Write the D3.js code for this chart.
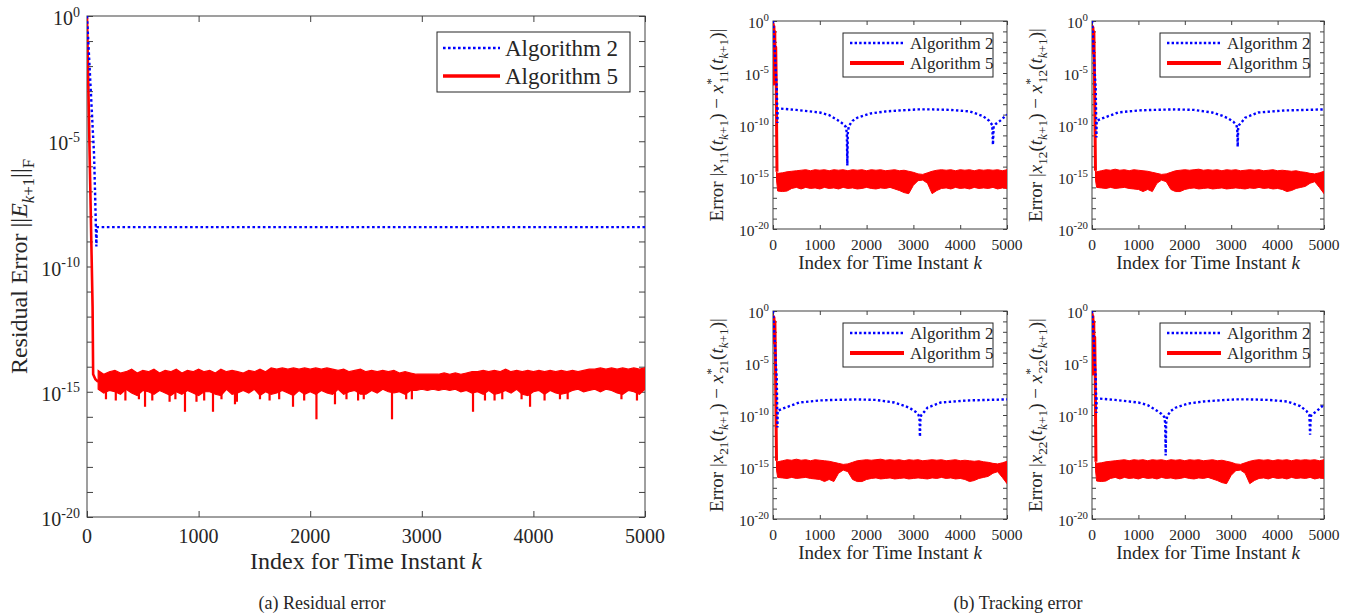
<!DOCTYPE html>
<html lang="en">
<head>
<meta charset="UTF-8">
<title>Residual and tracking error</title>
<script src="https://d3js.org/d3.v7.min.js"></script>
<style>
  body { margin: 0; background: #fff; }
  #fig text, #fig tspan { font-family: "Liberation Serif", "Times New Roman", serif; }
  #fig text { fill: #262626; }
</style>
</head>
<body>
<svg id="fig" width="1358" height="614" font-family="Liberation Serif, serif"></svg>
<script>
// ---------- data (values are log10 of the error) ----------
var xTicks = [0, 1000, 2000, 3000, 4000, 5000];
var yLabelExps = [0, -5, -10, -15, -20];
var seriesNames = ["Algorithm 2", "Algorithm 5"];

// (a) residual error
var resAlg2K = [0, 50, 63, 72, 80, 84, 88, 5000];
var resAlg2 = [0, -4.4, -5.5, -7.0, -8.5, -9.2, -8.43, -8.43];
var resAlg5HeadK = [0, 50, 55, 75, 100];
var resAlg5Head = [-0.05, -11.6, -14.3, -14.5, -14.6];
var resBandK = d3.range(100, 5001, 50);
var resBandTop = [
  -14.15,-14.3,-14.2,-14.15,-14.25,-14.2,-14.1,-14.25,-14.15,-14.2,
  -14.1,-14.25,-14.15,-14.2,-14.1,-14.25,-14.15,-14.2,-14.1,-14.2,
  -14.15,-14.25,-14.1,-14.2,-14.15,-14.2,-14.25,-14.15,-14.2,-14.1,
  -14.2,-14.05,-14.1,-14.05,-14.1,-14.05,-14.1,-14.05,-14.1,-14.05,
  -14.1,-14.05,-14.1,-14.15,-14.1,-14.2,-14.15,-14.1,-14.2,-14.15,
  -14.2,-14.15,-14.2,-14.15,-14.25,-14.2,-14.25,-14.3,-14.3,-14.3,
  -14.3,-14.3,-14.25,-14.3,-14.25,-14.3,-14.25,-14.2,-14.2,-14.15,
  -14.2,-14.15,-14.2,-14.1,-14.2,-14.15,-14.2,-14.15,-14.2,-14.15,
  -14.2,-14.15,-14.2,-14.15,-14.2,-14.15,-14.2,-14.15,-14.1,-14.1,
  -14.05,-14.1,-14.05,-14.1,-14.05,-14.1,-14.05,-14.1,-14.05
];
var resBandBot = [
  -14.9,-15.05,-14.95,-15.0,-15.1,-14.9,-15.05,-15.15,-14.95,-15.0,
  -15.1,-14.95,-15.05,-15.15,-15.0,-15.1,-14.95,-15.05,-15.15,-15.0,
  -15.0,-15.1,-15.15,-14.9,-15.1,-15.05,-14.95,-15.05,-14.9,-15.15,
  -15.0,-15.1,-15.05,-14.95,-15.05,-15.15,-14.95,-15.1,-15.0,-15.1,
  -14.95,-15.05,-15.1,-14.9,-15.1,-15.0,-14.95,-15.1,-15.1,-14.95,
  -15.05,-14.9,-15.0,-15.05,-15.0,-15.1,-14.95,-14.95,-14.9,-14.95,
  -14.9,-14.95,-14.9,-14.95,-14.9,-15.0,-14.95,-15.05,-15.0,-15.1,
  -14.95,-15.1,-15.05,-14.95,-15.05,-14.9,-15.1,-15.15,-15.0,-14.95,
  -15.1,-14.95,-15.05,-15.1,-15.05,-14.95,-14.9,-15.0,-14.95,-14.9,
  -15.0,-14.9,-14.95,-15.05,-15.1,-14.95,-15.0,-15.1,-14.9
];
var resSpikeBase = -14.8;
var resSpikeK = [170, 258, 344, 465, 520, 585, 740, 792, 878, 981, 1050, 1129, 1205, 1326, 1343, 1550, 1636, 1722, 1846, 1946,
  2056, 2222, 2325, 2429, 2480, 2733, 2860, 2911, 3459, 3566, 3652, 3721, 3894, 3970, 4100, 4238, 4307, 4789, 4928];
var resSpike = [-15.3, -15.35, -15.35, -15.3, -15.6, -15.35, -15.4, -15.3, -15.8, -15.4, -15.35, -15.8, -15.3, -15.5, -15.4, -15.3, -15.35, -15.3, -15.6, -15.35,
  -16.1, -15.5, -15.3, -15.35, -15.3, -16.1, -15.3, -15.3, -15.8, -15.35, -15.35, -15.3, -15.3, -15.6, -15.35, -15.3, -15.3, -15.3, -15.35];

// (b) tracking error, pattern A (x11, x22) and pattern B (x12, x21)
var blueAK = [0, 40, 60, 80, 95, 100, 500, 1000, 1200, 1370, 1500, 1560, 1578, 1588, 1598, 1620, 1700, 1800, 2070, 2400, 2780, 3100, 3400, 3800, 4210, 4490, 4620, 4685, 4700, 4715, 4760, 4850, 5000];
var blueA = [0, -3, -5, -6.3, -9.8, -8.4, -8.55, -8.8, -9.05, -9.5, -9.9, -10.2, -10.8, -13.9, -10.8, -10.1, -9.6, -9.3, -8.9, -8.7, -8.58, -8.5, -8.5, -8.55, -8.7, -9.15, -9.6, -10.0, -11.9, -10.1, -9.9, -9.6, -9.0];
var blueBK = [0, 40, 60, 80, 95, 100, 200, 560, 1000, 1290, 1800, 2200, 2590, 2800, 2930, 3050, 3110, 3130, 3140, 3150, 3170, 3230, 3300, 3580, 4160, 4600, 5000];
var blueB = [0, -3, -5, -6.5, -11.2, -9.6, -9.4, -8.8, -8.6, -8.55, -8.5, -8.55, -8.8, -9.1, -9.35, -9.7, -10.0, -10.3, -12.1, -10.3, -10.0, -9.7, -9.3, -8.8, -8.6, -8.55, -8.5];

var redHeadAK = [0, 5, 12, 20, 28, 38, 48, 58, 70, 85];
var redHeadA = [-6.2, -0.3, -5.9, -0.5, -6.0, -1.0, -5.8, -2.5, -6.3, -14.5];
var redHeadBK = [0, 5, 12, 20, 30, 40, 50, 60, 75];
var redHeadB = [-3.2, -0.5, -2.8, -0.6, -2.5, -1.0, -4, -8, -14.4];

var bandK = [75].concat(d3.range(100, 5001, 100));
var bandUpA = [-14.5, -14.65,-14.6,-14.5,-14.45,-14.4,-14.35,-14.3,-14.4,-14.3,-14.35, -14.3,-14.4,-14.3,-14.35,-14.3,-14.4,-14.3,-14.35,-14.3,-14.4,
  -14.3,-14.35,-14.3,-14.4,-14.35,-14.3,-14.4,-14.35,-14.45,-14.55, -14.7,-14.75,-14.6,-14.45,-14.35,-14.3,-14.35,-14.3,-14.4,-14.3,
  -14.35,-14.3,-14.4,-14.3,-14.35,-14.3,-14.35,-14.3,-14.4,-14.3];
var bandLoA = [-15.3, -16.35,-16.4,-16.35,-16.1,-16.0,-16.15,-16.0,-16.1,-16.05,-16.15, -16.0,-16.1,-16.05,-16.15,-16.0,-16.1,-16.05,-16.15,-16.1,-16.0,
  -16.1,-16.15,-16.05,-16.1,-16.0,-16.15,-16.3,-16.5,-16.6,-15.8, -15.35,-15.3,-15.6,-16.6,-16.3,-16.1,-16.05,-16.15,-16.0,-16.1,
  -16.05,-16.15,-16.0,-16.1,-16.05,-16.1,-16.0,-16.15,-16.05,-16.1];
var bandUpB = [-14.4, -14.5,-14.4,-14.3,-14.35,-14.25,-14.35,-14.3,-14.4,-14.3,-14.35, -14.4,-14.45,-14.55,-14.65,-14.75,-14.7,-14.55,-14.4,-14.35,-14.3,
  -14.35,-14.3,-14.25,-14.35,-14.3,-14.35,-14.3,-14.4,-14.3,-14.35, -14.3,-14.4,-14.35,-14.3,-14.35,-14.3,-14.4,-14.35,-14.3,-14.4,
  -14.35,-14.4,-14.45,-14.4,-14.5,-14.55,-14.65,-14.7,-14.6,-14.45];
var bandLoB = [-15.3, -16.0,-16.05,-16.1,-16.0,-16.1,-16.05,-16.0,-16.1,-16.15,-16.2, -16.4,-16.2,-16.4,-15.6,-15.3,-15.45,-16.2,-16.4,-16.4,-16.2,
  -16.1,-16.05,-16.15,-16.1,-16.05,-16.15,-16.1,-16.05,-16.15,-16.1, -16.05,-16.1,-16.15,-16.05,-16.1,-16.0,-16.1,-16.05,-16.15,-16.1,
  -16.2,-16.4,-16.3,-16.1,-16.0,-15.9,-15.6,-15.45,-16.0,-16.6];

// ---------- drawing ----------
var BLUE = "#0000ff", RED = "#ff0000", AXIS = "#404040";
var SERIF = "'Liberation Serif', 'Times New Roman', serif";
var fig = d3.select("#fig");

function txt(parent) {
  return parent.append("text").style("font-family", SERIF).attr("fill", "#262626");
}

function rich(sel, parts, size) {
  var cur = 0;
  parts.forEach(function(p) {
    var shift = p.sub ? 0.28 * size : (p.sup ? -0.42 * size : 0);
    var ts = sel.append("tspan").text(p.t).attr("dy", shift - cur);
    if (p.sub || p.sup) ts.attr("font-size", size * 0.7);
    if (p.it) ts.attr("font-style", "italic");
    if (p.dx) ts.attr("dx", p.dx);
    cur = shift;
  });
}

function pts(ks, vs) {
  return ks.map(function(k, i) { return [k, Math.pow(10, vs[i])]; });
}

function setupAxes(p) {
  var x = d3.scaleLinear().domain([0, 5000]).range([p.x0, p.x1]);
  var y = d3.scaleLog().domain([1e-20, 1]).range([p.y1, p.y0]);
  var decades = d3.range(0, -21, -1).map(function(e) { return Math.pow(10, e); });
  var g = fig.append("g").attr("color", AXIS);

  g.append("g").attr("transform", "translate(0," + p.y1 + ")")
    .call(d3.axisBottom(x).tickValues(xTicks).tickSizeInner(-p.tl).tickSizeOuter(0).tickFormat(""));
  g.append("g").attr("transform", "translate(0," + p.y0 + ")")
    .call(d3.axisTop(x).tickValues(xTicks).tickSizeInner(-p.tl).tickSizeOuter(0).tickFormat(""));
  g.append("g").attr("transform", "translate(" + p.x0 + ",0)")
    .call(d3.axisLeft(y).tickValues(decades).tickSizeInner(-p.tl).tickSizeOuter(0).tickFormat(""));
  g.append("g").attr("transform", "translate(" + p.x1 + ",0)")
    .call(d3.axisRight(y).tickValues(decades).tickSizeInner(-p.tl).tickSizeOuter(0).tickFormat(""));
  g.selectAll(".domain").remove();
  g.selectAll(".tick text").remove();
  g.selectAll("line").attr("stroke-width", 1);
  g.append("rect").attr("x", p.x0).attr("y", p.y0)
    .attr("width", p.x1 - p.x0).attr("height", p.y1 - p.y0)
    .attr("fill", "none").attr("stroke", AXIS).attr("stroke-width", 1);

  // tick labels
  xTicks.forEach(function(t) {
    txt(fig).attr("x", x(t)).attr("y", p.y1 + p.xtOff)
      .attr("text-anchor", "middle").attr("font-size", p.tf).text(t);
  });
  yLabelExps.forEach(function(e) {
    var t = txt(fig).attr("x", p.x0 - p.ytGap).attr("y", y(Math.pow(10, e)) + p.ytOff)
      .attr("text-anchor", "end").attr("font-size", p.tf);
    rich(t, [{ t: "10" }, { t: String(e), sup: 1 }], p.tf);
  });

  // axis labels
  var xl = txt(fig).attr("x", (p.x0 + p.x1) / 2).attr("y", p.y1 + p.xlOff)
    .attr("text-anchor", "middle").attr("font-size", p.lf);
  rich(xl, [{ t: "Index for Time Instant " }, { t: "k", it: 1 }], p.lf);
  var yl = txt(fig)
    .attr("transform", "translate(" + (p.x0 - p.ylOff) + "," + ((p.y0 + p.y1) / 2) + ") rotate(-90)")
    .attr("text-anchor", "middle").attr("font-size", p.ylf || p.lf);
  rich(yl, p.ylabel, p.ylf || p.lf);

  var cid = "clip" + p.id;
  fig.append("clipPath").attr("id", cid).append("rect")
    .attr("x", p.x0).attr("y", p.y0 - 3).attr("width", p.x1 - p.x0).attr("height", p.y1 - p.y0 + 3);
  var plot = fig.append("g").attr("clip-path", "url(#" + cid + ")");
  return { x: x, y: y, plot: plot };
}

function legend(L) {
  var g = fig.append("g");
  g.append("rect").attr("x", L.x).attr("y", L.y).attr("width", L.w).attr("height", L.h)
    .attr("fill", "#fff").attr("stroke", "#262626").attr("stroke-width", 1);
  var styles = [
    { c: BLUE, w: L.bw, dash: L.dash },
    { c: RED, w: L.rw, dash: null }
  ];
  seriesNames.forEach(function(name, i) {
    var cy = L.y + L.rows[i];
    g.append("line").attr("x1", L.x + L.l0).attr("x2", L.x + L.l1).attr("y1", cy).attr("y2", cy)
      .attr("stroke", styles[i].c).attr("stroke-width", styles[i].w)
      .attr("stroke-dasharray", styles[i].dash);
    txt(g).attr("x", L.x + L.tx).attr("y", cy + L.f * 0.33)
      .attr("font-size", L.f).text(name);
  });
}

function lineGen(ax) {
  return d3.line().x(function(d) { return ax.x(d[0]); }).y(function(d) { return ax.y(d[1]); });
}

// (a) residual error
var big = {
  id: "a", x0: 87, x1: 645, y0: 16, y1: 517, tl: 6, tf: 20, lf: 24,
  xtOff: 26, ytGap: 7, ytOff: 9, xlOff: 52, ylOff: 60,
  ylabel: [{ t: "Residual Error  ||" }, { t: "E", it: 1 }, { t: "k", it: 1, sub: 1 }, { t: "+1", sub: 1 }, { t: "||" }, { t: "F", sub: 1 }]
};
var A = setupAxes(big);
var lnA = lineGen(A);
var resArea = d3.area()
  .x(function(d) { return A.x(d[0]); })
  .y0(function(d) { return A.y(d[2]); })
  .y1(function(d) { return A.y(d[1]); });
A.plot.append("path")
  .datum(resBandK.map(function(k, i) { return [k, Math.pow(10, resBandTop[i]), Math.pow(10, resBandBot[i])]; }))
  .attr("d", resArea).attr("fill", RED).attr("stroke", RED).attr("stroke-width", 1.2);
A.plot.append("path").datum(pts(resAlg5HeadK, resAlg5Head))
  .attr("d", lnA).attr("fill", "none").attr("stroke", RED).attr("stroke-width", 2.6);
A.plot.selectAll(".spike").data(resSpikeK).enter().append("line").attr("class", "spike")
  .attr("x1", function(k) { return A.x(k); }).attr("x2", function(k) { return A.x(k); })
  .attr("y1", A.y(Math.pow(10, resSpikeBase)))
  .attr("y2", function(k, i) { return A.y(Math.pow(10, resSpike[i])); })
  .attr("stroke", RED).attr("stroke-width", 2.2);
A.plot.append("path").datum(pts(resAlg2K, resAlg2))
  .attr("d", lnA).attr("fill", "none").attr("stroke", BLUE).attr("stroke-width", 2.4)
  .attr("stroke-dasharray", "2.6,2.6");
legend({ x: 437, y: 32, w: 193, h: 60, rows: [16, 44], l0: 6, l1: 63, tx: 68, f: 23, bw: 2.6, rw: 3.4, dash: "2.6,2.4" });

// (b) tracking error
var smallPanels = [
  { id: "b11", s: "11", x0: 773, x1: 1007, y0: 21, y1: 229, bk: blueAK, b: blueA, hk: redHeadAK, h: redHeadA, up: bandUpA, lo: bandLoA },
  { id: "b12", s: "12", x0: 1092, x1: 1324, y0: 21, y1: 229, bk: blueBK, b: blueB, hk: redHeadBK, h: redHeadB, up: bandUpB, lo: bandLoB },
  { id: "b21", s: "21", x0: 773, x1: 1007, y0: 311, y1: 519, bk: blueBK, b: blueB, hk: redHeadBK, h: redHeadB, up: bandUpB, lo: bandLoB },
  { id: "b22", s: "22", x0: 1092, x1: 1324, y0: 311, y1: 519, bk: blueAK, b: blueA, hk: redHeadAK, h: redHeadA, up: bandUpA, lo: bandLoA }
];
smallPanels.forEach(function(sp) {
  sp.tl = 4; sp.tf = 15.5; sp.lf = 19; sp.ylf = 19;
  sp.xtOff = 21; sp.ytGap = 4; sp.ytOff = 7; sp.xlOff = 40; sp.ylOff = 50;
  sp.ylabel = [
    { t: "Error  |" }, { t: "x", it: 1 }, { t: sp.s, sub: 1 }, { t: "(" }, { t: "t", it: 1 }, { t: "k", it: 1, sub: 1 }, { t: "+1", sub: 1 },
    { t: ") − " }, { t: "x", it: 1 }, { t: "*", sup: 1 }, { t: sp.s, sub: 1, dx: -5 }, { t: "(" }, { t: "t", it: 1 },
    { t: "k", it: 1, sub: 1 }, { t: "+1", sub: 1 }, { t: ")|" }
  ];
  var ax = setupAxes(sp);
  var ln = lineGen(ax);
  var band = d3.area()
    .x(function(d) { return ax.x(d[0]); })
    .y0(function(d) { return ax.y(d[2]); })
    .y1(function(d) { return ax.y(d[1]); });
  var bandData = bandK.map(function(k, i) { return [k, Math.pow(10, sp.up[i]), Math.pow(10, sp.lo[i])]; });
  ax.plot.append("path").datum(bandData).attr("d", band)
    .attr("fill", RED).attr("stroke", RED).attr("stroke-width", 1);
  ax.plot.append("path").datum(pts(sp.hk, sp.h)).attr("d", ln)
    .attr("fill", "none").attr("stroke", RED).attr("stroke-width", 3).attr("stroke-linejoin", "round");
  ax.plot.append("path").datum(pts(sp.bk, sp.b)).attr("d", ln)
    .attr("fill", "none").attr("stroke", BLUE).attr("stroke-width", 2.4).attr("stroke-dasharray", "2.4,2.4");
  legend({ x: sp.x1 - 164, y: sp.y0 + 12, w: 150, h: 44, rows: [10, 30], l0: 7, l1: 61, tx: 67, f: 17, bw: 2.4, rw: 4, dash: "2.4,2.2" });
});

// captions
txt(fig).attr("x", 322).attr("y", 609).attr("text-anchor", "middle").attr("font-size", 18)
  .attr("fill", "#000").text("(a)  Residual error");
txt(fig).attr("x", 1018).attr("y", 609).attr("text-anchor", "middle").attr("font-size", 18)
  .attr("fill", "#000").text("(b)  Tracking error");
</script>
</body>
</html>
